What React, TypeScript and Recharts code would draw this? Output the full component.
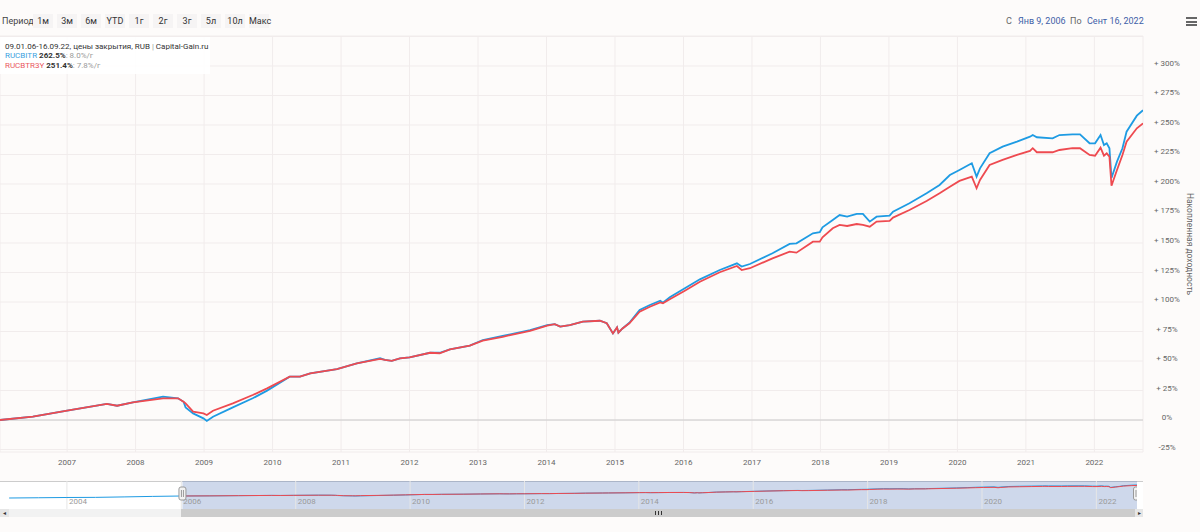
import { LineChart, Line, XAxis, YAxis, CartesianGrid, ReferenceLine, ReferenceArea } from "recharts";

// дата в долях года, доходность в % от 09.01.2006
const dates = [
  2006.02, 2006.5, 2007.0, 2007.58, 2007.73, 2007.96, 2008.4, 2008.62, 2008.7, 2008.73,
  2008.84, 2008.99, 2009.04, 2009.13, 2009.42, 2009.71, 2009.92, 2010.25, 2010.4, 2010.55,
  2010.94, 2011.23, 2011.57, 2011.64, 2011.74, 2011.86, 2012.0, 2012.3, 2012.44, 2012.59,
  2012.88, 2013.07, 2013.36, 2013.47, 2013.76, 2014.01, 2014.12, 2014.2, 2014.34, 2014.53,
  2014.78, 2014.88, 2014.97, 2015.03, 2015.05, 2015.11, 2015.21, 2015.36, 2015.51, 2015.66,
  2015.7, 2015.8, 2016.02, 2016.24, 2016.53, 2016.78, 2016.85, 2016.97, 2017.3, 2017.55,
  2017.65, 2017.89, 2017.99, 2018.03, 2018.18, 2018.28, 2018.39, 2018.53, 2018.62, 2018.72,
  2018.82, 2019.01, 2019.06, 2019.3, 2019.55, 2019.74, 2019.89, 2020.03, 2020.21, 2020.28,
  2020.33, 2020.47, 2020.66, 2020.87, 2021.06, 2021.1, 2021.16, 2021.39, 2021.49, 2021.68,
  2021.79, 2021.93, 2022.01, 2022.09, 2022.14, 2022.18, 2022.22, 2022.25, 2022.33, 2022.41,
  2022.47, 2022.62, 2022.71,
];

const rucbitr = [
  0, 2.8, 7.9, 13.6, 12.1, 15.0, 19.8, 18.4, 15.5, 10.7,
  5.6, 1.4, -0.8, 2.8, 10.7, 18.4, 24.9, 36.7, 36.7, 39.5,
  43.2, 48, 52.3, 50.9, 50.2, 52.3, 53.1, 57, 57, 59.9,
  63, 67.8, 71.2, 72.6, 76.2, 80.5, 81.3, 79.1, 80.5, 83.3,
  84.1, 82, 73.4, 78.5, 74, 77.6, 82.4, 93.2, 97.5, 101.1,
  99.4, 104, 111.6, 119.2, 127.1, 132.8, 130, 132.2, 141.3, 149.2,
  149.7, 158.2, 159.1, 163.3, 169.5, 173.7, 172.3, 174.6, 174.6, 168.1,
  172.3, 173.2, 176.6, 183.7, 192.1, 199.2, 207.6, 211.9, 217.6, 206.2,
  213.3, 226, 231.6, 235.9, 240.1, 241.5, 239.6, 238.7, 241.5, 242.1,
  242, 234.5, 234.5, 241.5, 233, 234.5, 230.3, 205, 218.9, 230.3,
  244.3, 257.9, 262.5,
];

const rucbtr3y = [
  0, 2.8, 7.9, 13.6, 12.1, 15.0, 18.4, 18.4, 15.5, 14.1,
  7.1, 5.6, 4.2, 7.9, 14.1, 21.2, 26.8, 36.7, 36.7, 39.5,
  43.2, 48, 51.8, 50.9, 50.2, 52.3, 53.1, 57, 56.6, 59.9,
  63, 67.3, 70.5, 72, 75.5, 80, 81.3, 79.1, 80.5, 83.3,
  84.1, 82, 73.4, 78.5, 74, 77.6, 82, 91.8, 96, 99.7,
  98.9, 102.3, 109.6, 117.2, 125.2, 130.5, 127.1, 128.6, 137, 142.6,
  141.8, 151.1, 151.1, 154.8, 162.5, 165.3, 164.4, 166.1, 165.3, 163.8,
  168.1, 168.7, 171.5, 178, 185.6, 192.1, 197.7, 202.6, 206.2, 196.4,
  203.4, 216.1, 220.4, 224.6, 228, 230.3, 226.9, 226.9, 228.8, 230.3,
  230.3, 224.6, 224, 230.8, 224, 226, 223.2, 198.5, 211.9, 224.6,
  235.9, 247.2, 251.4,
];

// навигатор: RUCBITR до начала периода
const navPreDates = [2002.99, 2003.5, 2004.0, 2004.5, 2005.0, 2005.5];
const navPreRucbitr = [-48, -42, -36, -33, -22, -10];

const yearTicks = [2007, 2008, 2009, 2010, 2011, 2012, 2013, 2014, 2015, 2016, 2017, 2018, 2019, 2020, 2021, 2022];
const pctTicks = [-25, 0, 25, 50, 75, 100, 125, 150, 175, 200, 225, 250, 275, 300, 325];
const navYears = [2004, 2006, 2008, 2010, 2012, 2014, 2016, 2018, 2020, 2022];
const periodButtons = ["1м", "3м", "6м", "YTD", "1г", "2г", "3г", "5л", "10л", "Макс"];

const BLUE = "#1e9be3";
const RED = "#ee4a50";
const FONT = "Roboto, 'Noto Sans', sans-serif";

const data = dates.map((t, i) => ({ t, a: rucbitr[i], b: rucbtr3y[i] }));
const navData = [
  ...navPreDates.map((t, i) => ({ t, a: navPreRucbitr[i], b: null })),
  ...data,
];

const fmtPct = (v: number) => (v > 0 ? `+ ${v}%` : `${v}%`);

function XTick({ x, y, payload }: any) {
  return (
    <text x={x} y={y + 13} textAnchor="middle" fontSize={8} fill="#666" fontFamily={FONT}>
      {payload.value}
    </text>
  );
}

function YTick({ x, y, payload }: any) {
  if (payload.value === 325) return null;
  return (
    <text x={x + 24} y={y} textAnchor="middle" fontSize={8} fill="#666" fontFamily={FONT}>
      {fmtPct(payload.value)}
    </text>
  );
}

function YTitle({ viewBox }: any) {
  const cx = viewBox.x + 47;
  const cy = viewBox.y + viewBox.height / 2;
  return (
    <text x={cx} y={cy} transform={`rotate(90 ${cx} ${cy})`} textAnchor="middle" dominantBaseline="central"
      fontSize={8.5} fill="#666" fontFamily={FONT}>
      Накопленная доходность
    </text>
  );
}

function Handle({ viewBox }: any) {
  const x = viewBox.x;
  const y = viewBox.y;
  return (
    <g>
      <rect x={x - 3.5} y={y + 6} width={7} height={13} rx={2} fill="#f2f2f2" stroke="#999" />
      <line x1={x - 1} x2={x - 1} y1={y + 9} y2={y + 16} stroke="#999" />
      <line x1={x + 1} x2={x + 1} y1={y + 9} y2={y + 16} stroke="#999" />
    </g>
  );
}

function NavLabel({ viewBox, value }: any) {
  return (
    <text x={viewBox.x + 2} y={viewBox.y + 23} fontSize={8} fill="#9a9a9a" fontFamily={FONT}>
      {value}
    </text>
  );
}

export default function App() {
  const start = dates[0];
  const end = dates[dates.length - 1];
  return (
    <div style={{ position: "absolute", left: 0, top: 0, width: 1200, height: 532, background: "#fdfbfa", fontFamily: FONT, overflow: "hidden" }}>
      <div style={{ position: "absolute", left: 0, top: 0 }}>
        <LineChart width={1200} height={475} data={data} margin={{ top: 36, right: 0, bottom: 0, left: 0 }}>
          <CartesianGrid stroke="#f1ecec" strokeWidth={1} />
          <XAxis type="number" dataKey="t" domain={[start, end]} ticks={yearTicks} allowDataOverflow
            axisLine={false} tickLine={false} tickSize={0} tickMargin={0} height={23} tick={<XTick />} interval={0} />
          <YAxis orientation="right" width={57} domain={[-27.1, 325.4]} ticks={pctTicks} allowDataOverflow
            axisLine={false} tickLine={false} tickSize={0} tickMargin={0} tick={<YTick />} interval={0}
            label={(p: any) => <YTitle {...p} />} />
          <ReferenceLine y={0} stroke="#cccccc" />
          <Line type="linear" dataKey="a" stroke={BLUE} strokeWidth={1.8} dot={false} isAnimationActive={false} />
          <Line type="linear" dataKey="b" stroke={RED} strokeWidth={1.8} dot={false} isAnimationActive={false} />
        </LineChart>
      </div>

      {/* панель периодов */}
      <div style={{ position: "absolute", left: 2, top: 14, height: 14, lineHeight: "14px", fontSize: 9, color: "#444" }}>Период</div>
      {periodButtons.map((b, i) => (
        <div key={b} style={{ position: "absolute", left: 33 + i * 24, top: 14, width: 20, height: 14, lineHeight: "14px", textAlign: "center", fontSize: 9, color: "#333", background: "#f6f4f4" }}>{b}</div>
      ))}

      {/* диапазон дат */}
      <div style={{ position: "absolute", left: 1006, top: 14, lineHeight: "14px", fontSize: 9, color: "#666" }}>С</div>
      <div style={{ position: "absolute", left: 1018, top: 14, lineHeight: "14px", fontSize: 9, color: "#3f5fa8" }}>Янв 9, 2006</div>
      <div style={{ position: "absolute", left: 1070, top: 14, lineHeight: "14px", fontSize: 9, color: "#666" }}>По</div>
      <div style={{ position: "absolute", left: 1087, top: 14, lineHeight: "14px", fontSize: 9, color: "#3f5fa8" }}>Сент 16, 2022</div>
      {[0, 1, 2].map((k) => (
        <div key={k} style={{ position: "absolute", left: 1186, top: 17 + k * 3.5, width: 11, height: 2, background: "#666" }} />
      ))}

      {/* подпись серий */}
      <div style={{ position: "absolute", left: 0, top: 37, width: 210, height: 37, background: "rgba(255,255,255,0.9)", fontSize: 8, lineHeight: "10px", color: "#333" }}>
        <div style={{ position: "absolute", left: 5, top: 5, whiteSpace: "nowrap" }}>09.01.06-16.09.22, цены закрытия, RUB <span style={{ color: "#999" }}>|</span> Capital-Gain.ru</div>
        <div style={{ position: "absolute", left: 5, top: 14, whiteSpace: "nowrap" }}>
          <span style={{ color: "#3a9fe0" }}>RUCBITR</span> <b>262.5%</b><span style={{ color: "#999" }}>: 8.0%/г</span>
        </div>
        <div style={{ position: "absolute", left: 5, top: 24, whiteSpace: "nowrap" }}>
          <span style={{ color: "#ea5a5f" }}>RUCBTR3Y</span> <b>251.4%</b><span style={{ color: "#999" }}>: 7.8%/г</span>
        </div>
      </div>

      {/* навигатор */}
      <div style={{ position: "absolute", left: 0, top: 481, width: 1143, height: 28, background: "#ffffff", borderTop: "1px solid #cccccc", boxSizing: "border-box" }} />
      <div style={{ position: "absolute", left: 0, top: 481 }}>
        <LineChart width={1137} height={28} data={navData} margin={{ top: 0, right: 0, bottom: 0, left: 0 }}>
          <XAxis type="number" dataKey="t" domain={[2002.83, end]} hide allowDataOverflow />
          <YAxis domain={[-310, 357]} hide allowDataOverflow />
          {navYears.map((yr) => (
            <ReferenceLine key={yr} x={yr} stroke="#e6e6e6" label={(p: any) => <NavLabel {...p} value={String(yr)} />} />
          ))}
          <ReferenceArea x1={start} x2={end} fill="#6685c2" fillOpacity={0.32} stroke="none" />
          <Line type="linear" dataKey="a" stroke={BLUE} strokeWidth={1} dot={false} isAnimationActive={false} connectNulls={false} />
          <Line type="linear" dataKey="b" stroke={RED} strokeWidth={1} dot={false} isAnimationActive={false} connectNulls={false} />
          <ReferenceLine x={start} stroke="none" label={(p: any) => <Handle {...p} />} />
          <ReferenceLine x={end} stroke="none" label={(p: any) => <Handle {...p} />} />
        </LineChart>
      </div>

      {/* полоса прокрутки */}
      <div style={{ position: "absolute", left: 0, top: 509, width: 1143, height: 8, background: "#f2f2f2" }} />
      <div style={{ position: "absolute", left: 181, top: 509, width: 954, height: 8, background: "#cccccc" }} />
      <div style={{ position: "absolute", left: 655, top: 511, width: 1, height: 4, background: "#333" }} />
      <div style={{ position: "absolute", left: 658, top: 511, width: 1, height: 4, background: "#333" }} />
      <div style={{ position: "absolute", left: 661, top: 511, width: 1, height: 4, background: "#333" }} />
      <div style={{ position: "absolute", left: 0, top: 509, width: 9, height: 8, background: "#e6e6e6", fontSize: 6, lineHeight: "8px", textAlign: "center", color: "#333" }}>◂</div>
      <div style={{ position: "absolute", left: 1135, top: 509, width: 8, height: 8, background: "#e6e6e6", fontSize: 6, lineHeight: "8px", textAlign: "center", color: "#333" }}>▸</div>
    </div>
  );
}
